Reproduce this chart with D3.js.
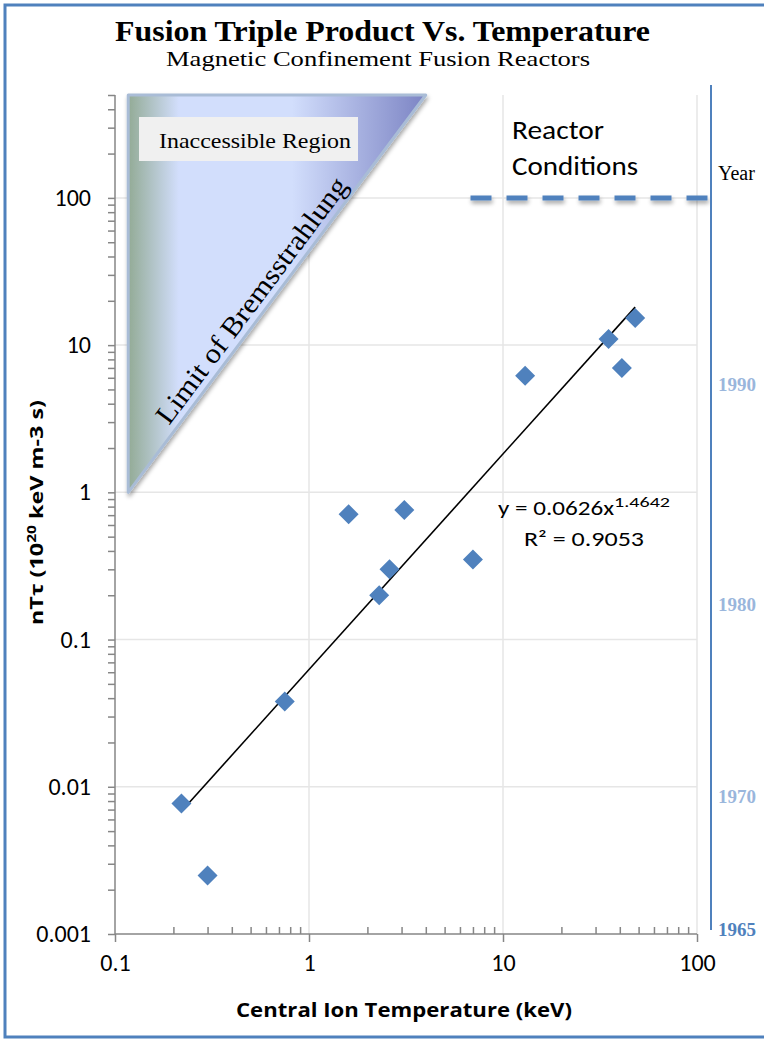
<!DOCTYPE html>
<html>
<head>
<meta charset="utf-8">
<title>Fusion Triple Product</title>
<script src="https://d3js.org/d3.v7.min.js"></script>
<style>
  body { margin: 0; background: #fff; }
  svg { display: block; }
</style>
</head>
<body>
<script>
// central ion temperature (keV) and triple product (1e20 keV m^-3 s)
var temperature = [0.22, 0.3, 0.75, 1.6, 3.1, 2.6, 2.3, 7, 13, 35, 41, 48];
var tripleProduct = [0.0077, 0.0025, 0.038, 0.71, 0.76, 0.30, 0.20, 0.35, 6.2, 11, 7.0, 15.3];

// power-law trendline as printed on the chart
var fitA = 0.0626, fitB = 1.4642, fitR2 = 0.9053;

var xTicks = [0.1, 1, 10, 100];
var yTicks = [0.001, 0.01, 0.1, 1, 10, 100];

// bremsstrahlung triangle corners (data space)
var bremsX = [0.117, 4];
var bremsY = [1, 500];
var reactorLevel = 100;
var reactorFrom = 6.8;

// secondary "Year" axis, placed against the nT-tau scale
var yearLabels = ['1990', '1980', '1970', '1965'];
var yearValues = [5.4, 0.172, 0.0085, 0.00106];

var W = 764, H = 1040;
var mL = 115, mR = 697, mT = 95, mB = 934;

var x = d3.scaleLog().domain([0.1, 100]).range([mL, mR]);
var y = d3.scaleLog().domain([0.001, 500]).range([mB, mT]);

var serif = '"Liberation Serif", "Times New Roman", serif';
var sans = 'Carlito, Lato, sans-serif';

var svg = d3.select('body').append('svg')
    .attr('width', W)
    .attr('height', H);

var defs = svg.append('defs');
var grad = defs.append('linearGradient')
    .attr('id', 'brems')
    .attr('x1', '0%').attr('x2', '100%').attr('y1', '0%').attr('y2', '0%');
grad.append('stop').attr('offset', '0%').attr('stop-color', '#93ab96');
grad.append('stop').attr('offset', '17%').attr('stop-color', '#d2defc');
grad.append('stop').attr('offset', '55%').attr('stop-color', '#d2defc');
grad.append('stop').attr('offset', '100%').attr('stop-color', '#7c84c4');

var shadow = defs.append('filter').attr('id', 'shadow')
    .attr('filterUnits', 'userSpaceOnUse')
    .attr('x', 0).attr('y', 0).attr('width', W).attr('height', H);
shadow.append('feDropShadow')
    .attr('dx', 1).attr('dy', 3).attr('stdDeviation', 2)
    .attr('flood-color', '#000').attr('flood-opacity', 0.35);

// outer frame
svg.append('rect')
    .attr('x', 5).attr('y', 5)
    .attr('width', W + 20).attr('height', H - 8)
    .attr('fill', 'none')
    .attr('stroke', '#4f81bd')
    .attr('stroke-width', 3);

// titles
svg.append('text')
    .attr('x', 115).attr('y', 41)
    .attr('textLength', 535).attr('lengthAdjust', 'spacingAndGlyphs')
    .style('font-family', serif)
    .style('font-weight', 'bold')
    .style('font-size', '29px')
    .text('Fusion Triple Product Vs. Temperature');
svg.append('text')
    .attr('x', 166).attr('y', 66)
    .attr('textLength', 424).attr('lengthAdjust', 'spacingAndGlyphs')
    .style('font-family', serif)
    .style('font-size', '21px')
    .text('Magnetic Confinement Fusion Reactors');

// gridlines
var grid = svg.append('g').attr('stroke', '#e6e6e6').attr('stroke-width', 1.5);
grid.selectAll('line.h')
    .data(yTicks.slice(1))
    .enter().append('line')
    .attr('x1', mL).attr('x2', mR)
    .attr('y1', function(d) { return y(d); })
    .attr('y2', function(d) { return y(d); });
grid.selectAll('line.v')
    .data(xTicks.slice(1))
    .enter().append('line')
    .attr('y1', mT).attr('y2', mB)
    .attr('x1', function(d) { return x(d); })
    .attr('x2', function(d) { return x(d); });

// inaccessible region triangle
var tri = [[bremsX[0], bremsY[1]], [bremsX[1], bremsY[1]], [bremsX[0], bremsY[0]]];
svg.append('path')
    .attr('d', 'M' + tri.map(function(p) { return x(p[0]) + ',' + y(p[1]); }).join('L') + 'Z')
    .attr('fill', 'url(#brems)')
    .attr('stroke', '#a9bcd6')
    .attr('stroke-width', 3)
    .attr('stroke-linejoin', 'round')
    .attr('filter', 'url(#shadow)');

svg.append('rect')
    .attr('x', 139).attr('y', 117)
    .attr('width', 219).attr('height', 44)
    .attr('fill', '#f0f0f0');
svg.append('text')
    .attr('x', 159).attr('y', 148)
    .attr('textLength', 192).attr('lengthAdjust', 'spacingAndGlyphs')
    .style('font-family', serif)
    .style('font-size', '21px')
    .text('Inaccessible Region');

var hx0 = x(bremsX[0]), hy0 = y(bremsY[0]), hx1 = x(bremsX[1]), hy1 = y(bremsY[1]);
var ang = Math.atan2(hy1 - hy0, hx1 - hx0) * 180 / Math.PI;
svg.append('text')
    .attr('transform', 'translate(259,306) rotate(' + ang + ')')
    .attr('text-anchor', 'middle')
    .attr('textLength', 300).attr('lengthAdjust', 'spacingAndGlyphs')
    .style('font-family', serif)
    .style('font-size', '28px')
    .text('Limit of Bremsstrahlung');

// axes
var axisColor = '#868686';
var yMinor = [];
for (var e = -3; e <= 2; e++) {
  for (var m = 1; m <= 9; m++) {
    var v = m * Math.pow(10, e);
    if (v <= 500.0001) yMinor.push(v);
  }
}
var xMinor = [];
for (var e2 = -1; e2 <= 1; e2++) {
  for (var m2 = 2; m2 <= 9; m2++) xMinor.push(m2 * Math.pow(10, e2));
}

var yAxis = svg.append('g')
    .attr('transform', 'translate(' + mL + ',0)')
    .call(d3.axisLeft(y).tickValues(yMinor).tickSize(7).tickFormat(''));
yAxis.selectAll('line, path').attr('stroke', axisColor).attr('stroke-width', 1.5);
yAxis.select('.domain').attr('d', 'M0,' + mT + 'V' + mB);

svg.append('g')
    .selectAll('text')
    .data(yTicks)
    .enter().append('text')
    .attr('x', mL - 24)
    .attr('y', function(d) { return y(d) + 8; })
    .attr('text-anchor', 'end')
    .style('font-family', sans)
    .style('font-size', '24px')
    .text(function(d) { return d3.format('~g')(d); });

var xAxisMinor = svg.append('g')
    .attr('transform', 'translate(0,' + mB + ')')
    .call(d3.axisTop(x).tickValues(xMinor).tickSize(7).tickFormat(''));
xAxisMinor.selectAll('line').attr('stroke', axisColor).attr('stroke-width', 1.5);
xAxisMinor.select('.domain').remove();

var xAxis = svg.append('g')
    .attr('transform', 'translate(0,' + mB + ')')
    .call(d3.axisBottom(x).tickValues(xTicks).tickSize(8).tickPadding(12)
      .tickFormat(function(d) { return d3.format('~g')(d); }));
xAxis.selectAll('line, path').attr('stroke', axisColor).attr('stroke-width', 1.5);
xAxis.select('.domain').attr('d', 'M' + mL + ',0H' + mR);
xAxis.selectAll('text')
    .attr('fill', '#000')
    .style('font-family', sans)
    .style('font-size', '24px');

// axis titles
svg.append('text')
    .attr('x', 236).attr('y', 1017)
    .attr('textLength', 336).attr('lengthAdjust', 'spacingAndGlyphs')
    .style('font-family', '"Open Sans", sans-serif')
    .style('font-weight', 'bold')
    .style('font-size', '20px')
    .text('Central Ion Temperature (keV)');

var yTitle = svg.append('text')
    .attr('transform', 'translate(43,625) rotate(-90)')
    .attr('textLength', 225).attr('lengthAdjust', 'spacingAndGlyphs')
    .style('font-family', '"Open Sans", sans-serif')
    .style('font-weight', 'bold')
    .style('font-size', '18px');
yTitle.append('tspan').text('nT\u03c4  (10');
yTitle.append('tspan').attr('dy', -7).style('font-size', '12px').text('20');
yTitle.append('tspan').attr('dy', 7).text(' keV m-3 s)');

// reactor conditions
svg.append('line')
    .attr('x1', x(reactorFrom)).attr('x2', 711)
    .attr('y1', y(reactorLevel)).attr('y2', y(reactorLevel))
    .attr('stroke', '#4f81bd')
    .attr('stroke-width', 5)
    .attr('stroke-dasharray', '21,15')
    .attr('filter', 'url(#shadow)');
svg.append('text')
    .attr('x', 512).attr('y', 139)
    .attr('textLength', 92).attr('lengthAdjust', 'spacingAndGlyphs')
    .style('font-family', sans)
    .style('font-size', '26px')
    .text('Reactor');
svg.append('text')
    .attr('x', 512).attr('y', 175)
    .attr('textLength', 126).attr('lengthAdjust', 'spacingAndGlyphs')
    .style('font-family', sans)
    .style('font-size', '26px')
    .text('Conditions');

// trendline
var xMin = d3.min(temperature), xMax = d3.max(temperature);
svg.append('line')
    .attr('x1', x(xMin)).attr('y1', y(fitA * Math.pow(xMin, fitB)))
    .attr('x2', x(xMax)).attr('y2', y(fitA * Math.pow(xMax, fitB)))
    .attr('stroke', '#000')
    .attr('stroke-width', 1.6);

// data points
var diamond = d3.symbol().type(d3.symbolSquare).size(200);
svg.append('g')
    .selectAll('path')
    .data(temperature)
    .enter().append('path')
    .attr('d', diamond)
    .attr('fill', '#4f81bd')
    .attr('transform', function(d, i) {
      return 'translate(' + x(d) + ',' + y(tripleProduct[i]) + ') rotate(45)';
    });

// fit label
var eq = svg.append('text')
    .attr('x', 498).attr('y', 515)
    .style('font-family', sans)
    .style('font-size', '21px');
eq.append('tspan').attr('textLength', 116).attr('lengthAdjust', 'spacingAndGlyphs')
    .text('y = ' + fitA + 'x');
eq.append('tspan').attr('dy', -8).style('font-size', '14px')
    .attr('textLength', 56).attr('lengthAdjust', 'spacingAndGlyphs')
    .text(fitB);
svg.append('text')
    .attr('x', 524).attr('y', 546)
    .attr('textLength', 120).attr('lengthAdjust', 'spacingAndGlyphs')
    .style('font-family', sans)
    .style('font-size', '21px')
    .text('R\u00b2 = ' + fitR2);

// year axis
svg.append('line')
    .attr('x1', 711).attr('x2', 711)
    .attr('y1', 85).attr('y2', 930)
    .attr('stroke', '#4f81bd')
    .attr('stroke-width', 2);
svg.append('text')
    .attr('x', 718).attr('y', 180)
    .style('font-family', serif)
    .style('font-size', '20px')
    .text('Year');
svg.append('g')
    .selectAll('text')
    .data(yearLabels)
    .enter().append('text')
    .attr('x', 718)
    .attr('y', function(d, i) { return y(yearValues[i]) + 6; })
    .attr('fill', function(d, i) { return i === yearLabels.length - 1 ? '#4f81bd' : '#9ab6dc'; })
    .style('font-family', serif)
    .style('font-weight', 'bold')
    .style('font-size', '19px')
    .text(function(d) { return d; });
</script>
</body>
</html>
